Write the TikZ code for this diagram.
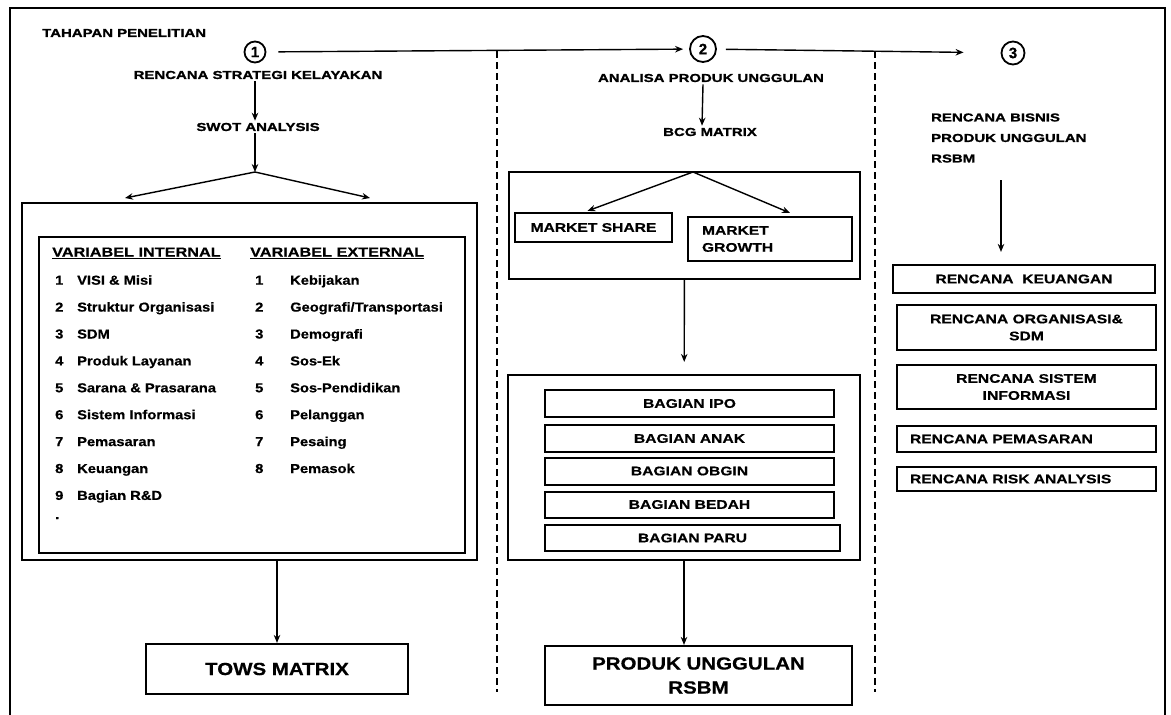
\documentclass[tikz,border=0pt]{standalone}
\usepackage{fontspec}
\setmainfont{Liberation Sans}
\newfontfamily\hdfont[FakeStretch=1.3,FakeBold=1.2]{Liberation Sans}
\newfontfamily\bxfont[FakeStretch=1.25,FakeBold=0.6]{Liberation Sans}
\newfontfamily\lsfont[FakeStretch=1.13,FakeBold=0.5]{Liberation Sans}
\newfontfamily\lhfont[FakeStretch=1.25,FakeBold=0.6]{Liberation Sans}
\newfontfamily\bigfont[FakeStretch=1.17,FakeBold=0.6]{Liberation Sans}
\newfontfamily\numfont[FakeBold=0.8]{Liberation Sans}
\usetikzlibrary{arrows.meta,calc}
\begin{document}
\begin{tikzpicture}[x=1pt,y=-1pt,
  hd/.style={font=\hdfont\bfseries\fontsize{11.5}{20.5}\selectfont, inner sep=2pt},
  bx/.style={draw, line width=2.2pt, font=\bxfont\bfseries\fontsize{12.5}{17}\selectfont, inner sep=0pt},
  big/.style={font=\bigfont\bfseries\fontsize{17.5}{24}\selectfont},
  lst/.style={font=\lsfont\bfseries\fontsize{13}{15}\selectfont, anchor=base west, inner sep=0pt},
  lsh/.style={font=\lhfont\bfseries\fontsize{13}{15}\selectfont, anchor=base west, inner sep=0pt},
  num/.style={circle, draw, line width=1.8pt, inner sep=0pt, font=\numfont\bfseries\fontsize{15}{17}\selectfont},
  arr/.style={-{Stealth[length=8pt,width=6.5pt]}, line width=1.4pt},
  dashline/.style={dash pattern=on 7pt off 4pt, line width=2pt},
  frame/.style={line width=2pt}]
\useasboundingbox (0,0) rectangle (1171,715);
\fill[white] (0,0) rectangle (1171,715);

% outer frame
\coordinate (fbl) at (10,716);
\coordinate (ftl) at (10,8);
\coordinate (ftr) at (1165,8);
\coordinate (fbr) at (1165,716);
\draw[frame] (fbl) -- (ftl) -- (ftr) -- (fbr);

% stage dividers
\coordinate (d1t) at (497,51);
\coordinate (d1b) at (497,692);
\coordinate (d2t) at (875,51);
\coordinate (d2b) at (875,692);
\draw[dashline] (d1t) -- (d1b);
\draw[dashline] (d2t) -- (d2b);

% stage numbers
\node[hd, anchor=west] (tp) at (40,33) {TAHAPAN PENELITIAN};
\node[num, minimum size=21pt] (c1) at (255,52) {1};
\node[num, minimum size=26pt] (c2) at (703,49) {2};
\node[num, minimum size=23pt] (c3) at (1013,53) {3};
\draw[arr, shorten <=12pt, shorten >=6pt] (c1) -- (c2);
\draw[arr, shorten <=9pt, shorten >=37pt] (c2) -- (c3);

% ---------- stage 1 ----------
\node[hd] (rsk) at (258,75) {RENCANA STRATEGI KELAYAKAN};
\node[hd] (swot) at (258,127) {SWOT ANALYSIS};
\draw[arr] ([xshift=-3pt]rsk.south) -- ([xshift=-3pt]swot.north);
\coordinate (ap1) at (255,172);
\draw[arr] ([xshift=-3pt]swot.south) -- (ap1);
\coordinate (l1) at (125,198);
\coordinate (r1) at (370,198);
\draw[arr] (ap1) -- (l1);
\draw[arr] (ap1) -- (r1);

\node[bx, minimum width=455pt, minimum height=357pt] (obox) at (249.5,381.5) {};
\node[bx, minimum width=426pt, minimum height=316pt] (ibox) at (252,395) {};

\node[lsh] (vi) at (52,256.5) {\underline{VARIABEL INTERNAL}};
\node[lsh] (ve) at (250,256.5) {\underline{VARIABEL EXTERNAL}};

\foreach \n/\t [count=\i] in {1/{VISI \& Misi}, 2/{Struktur Organisasi}, 3/{SDM}, 4/{Produk Layanan},
  5/{Sarana \& Prasarana}, 6/{Sistem Informasi}, 7/{Pemasaran}, 8/{Keuangan}, 9/{Bagian R\&D}}{
  \node[lst] (inn\i) at (55,{284.7+26.9*(\i-1)}) {\n};
  \node[lst] (int\i) at (77,{284.7+26.9*(\i-1)}) {\t};
}
\node[lst] (idot) at (55,519) {.};
\foreach \n/\t [count=\i] in {1/{Kebijakan}, 2/{Geografi/Transportasi}, 3/{Demografi}, 4/{Sos-Ek},
  5/{Sos-Pendidikan}, 6/{Pelanggan}, 7/{Pesaing}, 8/{Pemasok}}{
  \node[lst] (exn\i) at (255,{284.7+26.9*(\i-1)}) {\n};
  \node[lst] (ext\i) at (290,{284.7+26.9*(\i-1)}) {\t};
}

\node[bx, big, minimum width=262pt, minimum height=50pt] (tows) at (277,669) {TOWS MATRIX};
\draw[arr] (obox.south -| tows.north) -- (tows.north);

% ---------- stage 2 ----------
\node[hd] (apu) at (711,78) {ANALISA PRODUK UNGGULAN};
\node[hd] (bcg) at (710,132) {BCG MATRIX};
\draw[arr] ([xshift=-8pt]apu.south) -- ([xshift=-8pt]bcg.north);

\node[bx, minimum width=351pt, minimum height=107pt] (mbox) at (684.5,225.5) {};
\coordinate (ap2) at (693,172);
\node[bx, minimum width=157pt, minimum height=29pt] (ms) at (593.5,227.5) {MARKET SHARE};
\node[bx, minimum width=164pt, minimum height=44pt, text width=136pt, align=left] (mg) at (770,239) {MARKET\\GROWTH};
\draw[arr] (ap2) -- ($(ms.north)+(-6,-1)$);
\draw[arr] (ap2) -- ($(mg.north)+(20,-3)$);

\node[bx, minimum width=352pt, minimum height=185pt] (bbox) at (684,467.5) {};
\draw[arr, shorten >=12pt] (mbox) -- (bbox);
\node[bx, line width=2pt, minimum width=289pt, minimum height=27pt] (ipo) at (689.5,403.5) {BAGIAN IPO};
\node[bx, line width=2pt, minimum width=289pt, minimum height=27pt] (anak) at (689.5,438.5) {BAGIAN ANAK};
\node[bx, line width=2pt, minimum width=289pt, minimum height=27pt] (obgin) at (689.5,471) {BAGIAN OBGIN};
\node[bx, line width=2pt, minimum width=289pt, minimum height=26pt] (bedah) at (689.5,504.5) {BAGIAN BEDAH};
\node[bx, line width=2pt, minimum width=295pt, minimum height=26pt] (paru) at (692.5,538) {BAGIAN PARU};

\node[bx, big, minimum width=307pt, minimum height=59pt, align=center] (pu) at (698.5,675.5) {PRODUK UNGGULAN\\RSBM};
\draw[arr] (bbox.south) -- (bbox.south |- pu.north);

% ---------- stage 3 ----------
\node[hd, anchor=west, align=left, inner sep=0pt] (rb) at (931,138) {RENCANA BISNIS\\PRODUK UNGGULAN\\RSBM};
\coordinate (r3a) at (1001,180);
\node[bx, minimum width=262pt, minimum height=28pt] (rk) at (1024,279) {RENCANA\ \ KEUANGAN};
\draw[arr, shorten >=12pt] (r3a) -- (r3a |- rk.north);
\node[bx, minimum width=259pt, minimum height=45pt, align=center] (ro) at (1026.5,327.5) {RENCANA ORGANISASI\&\\SDM};
\node[bx, minimum width=259pt, minimum height=44pt, align=center] (rs) at (1026.5,387) {RENCANA SISTEM\\INFORMASI};
\node[bx, minimum width=259pt, minimum height=26pt, text width=233pt, align=left] (rp) at (1026.5,439) {RENCANA PEMASARAN};
\node[bx, minimum width=259pt, minimum height=24pt, text width=233pt, align=left] (rr) at (1026.5,479) {RENCANA RISK ANALYSIS};
\end{tikzpicture}
\end{document}
